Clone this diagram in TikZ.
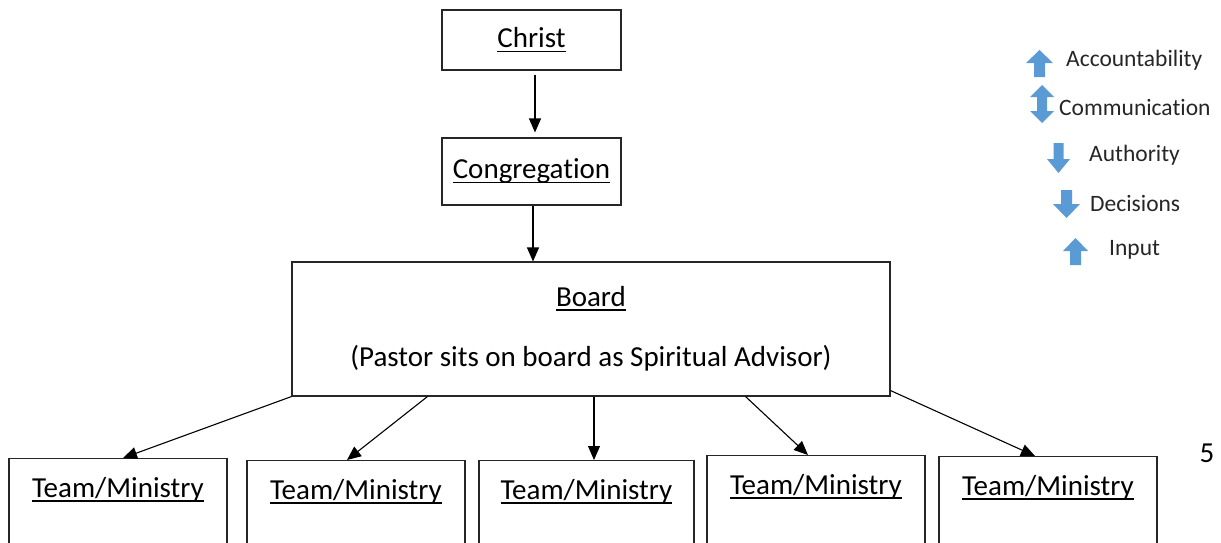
\documentclass[tikz,border=0pt]{standalone}
\usepackage{fontspec}
\setmainfont{Carlito}[Ligatures=NoCommon]
\usetikzlibrary{arrows.meta,positioning,calc}

\definecolor{legblue}{HTML}{5B9BD5}
\newcommand{\undr}[1]{\setbox0\hbox{#1}\rlap{\rule[-4.5pt]{\wd0}{1.8pt}}\box0}

\begin{document}
\begin{tikzpicture}[
                x=1pt, y=-1pt,
                box/.style={
                        draw=black!85,
                        line width=1.1pt,
                        font=\fontsize{29}{35}\selectfont,
                        align=center,
                        inner sep=0pt
                    },
                team/.style={
                        box,
                        minimum width=218pt,
                        text height=19pt,
                        text depth=80pt,
                        inner ysep=20pt,
                        anchor=north
                    },
                plain/.style={
                        font=\fontsize{29}{35}\selectfont,
                        inner sep=0pt
                    },
                legend/.style={
                        font=\fontsize{23.5}{28}\selectfont,
                        text=black!85,
                        anchor=west,
                        inner sep=0pt
                    },
                conn/.style={
                        -{Triangle[length=14pt,width=12pt]},
                        line width=1.1pt
                    }
            ]
            \useasboundingbox (0,0) rectangle (1221,542);
            \clip (0,0) rectangle (1221,542);

            % Chain of authority
            \node[box, minimum width=179pt, minimum height=60pt] (christ) at (531.5,40) {\undr{Christ}};
            \node[box, minimum width=179pt, minimum height=67pt] (congr) at (531.5,171.5) {\undr{Congregation}};
            \node[box, minimum width=598pt, minimum height=134pt] (board) at (591,329)
                {\undr{Board}\\[25pt](Pastor sits on board as Spiritual Advisor)};

            % Teams along the bottom
            \node[team] (team1) at (118,458) {\undr{Team/Ministry}};
            \node[team] (team2) at (356,460) {\undr{Team/Ministry}};
            \node[team, minimum width=215pt] (team3) at (586.5,460) {\undr{Team/Ministry}};
            \node[team] (team4) at (816,455) {\undr{Team/Ministry}};
            \node[team] (team5) at (1048,456) {\undr{Team/Ministry}};

            \node[plain] (pagenum) at (1207,453) {5};

            % Arrows between the boxes
            \coordinate (cfoot) at ([xshift=1.5pt]congr.south);
            \draw[conn, shorten <=4pt, shorten >=5pt] ([xshift=3.5pt]christ.south) -- ([xshift=3.5pt]congr.north);
            \draw[conn] (cfoot) -- (cfoot |- board.north);
            \draw[conn] (board.south west) -- ([xshift=5pt]team1.north);
            \draw[conn] ([xshift=136pt]board.south west) -- ([xshift=-9pt]team2.north);
            \draw[conn] ([xshift=3pt]board.south) -- ([xshift=7.5pt]team3.north);
            \draw[conn] ([xshift=-145pt]board.south east) -- ([xshift=-8pt]team4.north);
            \draw[conn] ([yshift=6pt]board.south east) -- ([xshift=-13pt]team5.north);

            % Legend block arrows
            \fill[legblue] (1034,77) -- (1034,63) -- (1026,63) -- (1039.5,50) -- (1053,63) -- (1045,63) -- (1045,77) -- cycle;
            \fill[legblue] (1042,85) -- (1054,97) -- (1047,97) -- (1047,111) -- (1054,111) -- (1042,123)
                -- (1030,111) -- (1037,111) -- (1037,97) -- (1030,97) -- cycle;
            \fill[legblue] (1053.5,143) -- (1053.5,159) -- (1047,159) -- (1058.5,173) -- (1070,159) -- (1063.5,159) -- (1063.5,143) -- cycle;
            \fill[legblue] (1061,190) -- (1061,204) -- (1053,204) -- (1066.5,218) -- (1080,204) -- (1072,204) -- (1072,190) -- cycle;
            \fill[legblue] (1070,265) -- (1070,251) -- (1063,251) -- (1075.5,238) -- (1088,251) -- (1081,251) -- (1081,265) -- cycle;

            % Legend texts
            \node[legend] (accnt) at (1066,60) {Accountability};
            \node[legend] (commu) at (1059,107) {Communication};
            \node[legend] (autho) at (1089,155) {Authority};
            \node[legend] (decis) at (1090,203) {Decisions};
            \node[legend] (input) at (1109,250) {Input};

        \end{tikzpicture}
\end{document}
